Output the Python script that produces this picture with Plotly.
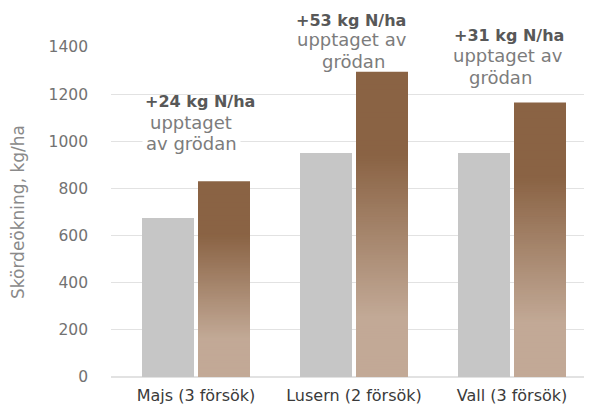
import plotly.graph_objects as go

categories = ["Majs (3 försök)", "Lusern (2 försök)", "Vall (3 försök)"]
control_values = [675, 950, 950]
treated_values = [830, 1295, 1165]
bold_labels = ["+24 kg N/ha", "+53 kg N/ha", "+31 kg N/ha"]
sub_labels = [["upptaget", "av grödan"], ["upptaget av", "grödan"], ["upptaget av", "grödan"]]
y_ticks = [0, 200, 400, 600, 800, 1000, 1200, 1400]

DARK = (138, 99, 68)
LIGHT = (194, 169, 150)
GRAY = "#c6c6c6"
FONT = "DejaVu Sans"

# page geometry
PLOT_TOP, PLOT_BOT = 47, 377
PLOT_W = 592 - 103          # plot area width in px
PX_PER_CAT = 158            # px per category slot
X0 = -85 / PX_PER_CAT       # left end of the x range
X1 = X0 + PLOT_W / PX_PER_CAT


def px_to_paper(ypx):
    return (PLOT_BOT - ypx) / (PLOT_BOT - PLOT_TOP)


def grad_color(t):
    # t = fraction measured from the top of the bar
    a, b = 0.27, 0.80
    if t <= a:
        f = 0.0
    elif t >= b:
        f = 1.0
    else:
        f = (t - a) / (b - a)
    c = [round(DARK[k] + (LIGHT[k] - DARK[k]) * f) for k in range(3)]
    return f"rgb({c[0]},{c[1]},{c[2]})"


BAR_W = 52 / PX_PER_CAT
fig = go.Figure()
fig.add_trace(go.Bar(x=categories, y=control_values, marker=dict(color=GRAY, line=dict(width=0)),
                     width=BAR_W, offset=-54 / PX_PER_CAT, showlegend=False, hoverinfo="skip"))

# gradient bars: nested bars, each shorter one lighter, drawn over the previous
N = 120
for i in range(N):
    t = i / N
    fig.add_trace(go.Bar(x=categories, y=[v * (1 - t) for v in treated_values],
                         marker=dict(color=grad_color(t), line=dict(width=0)),
                         width=BAR_W, offset=2 / PX_PER_CAT, showlegend=False, hoverinfo="skip"))

annotations = []
# white boxes interrupting gridlines behind the labels
for idx, ygrid, w, xs in [(0, 1000, 97, -5), (1, 1400, 151, -3.5), (2, 1400, 149, -5.5)]:
    annotations.append(dict(x=idx, y=ygrid, xref="x", yref="y", text=" ", showarrow=False,
                            width=w, height=6, bgcolor="white", borderpad=0, xshift=xs,
                            font=dict(size=4)))

# text lines: (category index, text, bold?, center y in page px, xshift)
lines = [
    (0, bold_labels[0], True, 102, 4),
    (0, sub_labels[0][0], False, 122, -5),
    (0, sub_labels[0][1], False, 143, -5),
    (1, bold_labels[1], True, 20, -3),
    (1, sub_labels[1][0], False, 40, -2.5),
    (1, sub_labels[1][1], False, 61, -0.5),
    (2, bold_labels[2], True, 36, -3),
    (2, sub_labels[2][0], False, 56, -4),
    (2, sub_labels[2][1], False, 77, -12),
]
for idx, txt, bold, yc, xs in lines:
    annotations.append(dict(
        x=idx, y=px_to_paper(yc), xref="x", yref="paper", yanchor="middle",
        text=("<b>" + txt + "</b>") if bold else txt, showarrow=False, xshift=xs,
        font=dict(family=FONT, size=16 if bold else 18, color="#585858" if bold else "#7c7c7c")))

fig.update_layout(
    barmode="overlay",
    width=592, height=406,
    margin=dict(l=103, r=0, t=39, b=37),
    paper_bgcolor="white", plot_bgcolor="white",
    font=dict(family=FONT, color="#777777"),
    annotations=annotations,
    xaxis=dict(range=[X0, X1], showgrid=False, showline=False, zeroline=False, ticks="",
               ticklabelstandoff=7,
               tickfont=dict(family=FONT, size=16, color="#3a3a3a")),
    yaxis=dict(range=[0, 1400], tickvals=y_ticks, ticktext=[str(v) for v in y_ticks],
               showgrid=True, gridcolor="#e2e2e2", gridwidth=1, zeroline=True, zerolinecolor="#e2e2e2",
               showline=False, ticks="", ticklabelstandoff=22,
               tickfont=dict(family=FONT, size=15.5, color="#727272"),
               title=dict(text="Skördeökning, kg/ha", font=dict(family=FONT, size=17, color="#8a8a8a"),
                          standoff=24)),
)

fig.write_html("out.html")
